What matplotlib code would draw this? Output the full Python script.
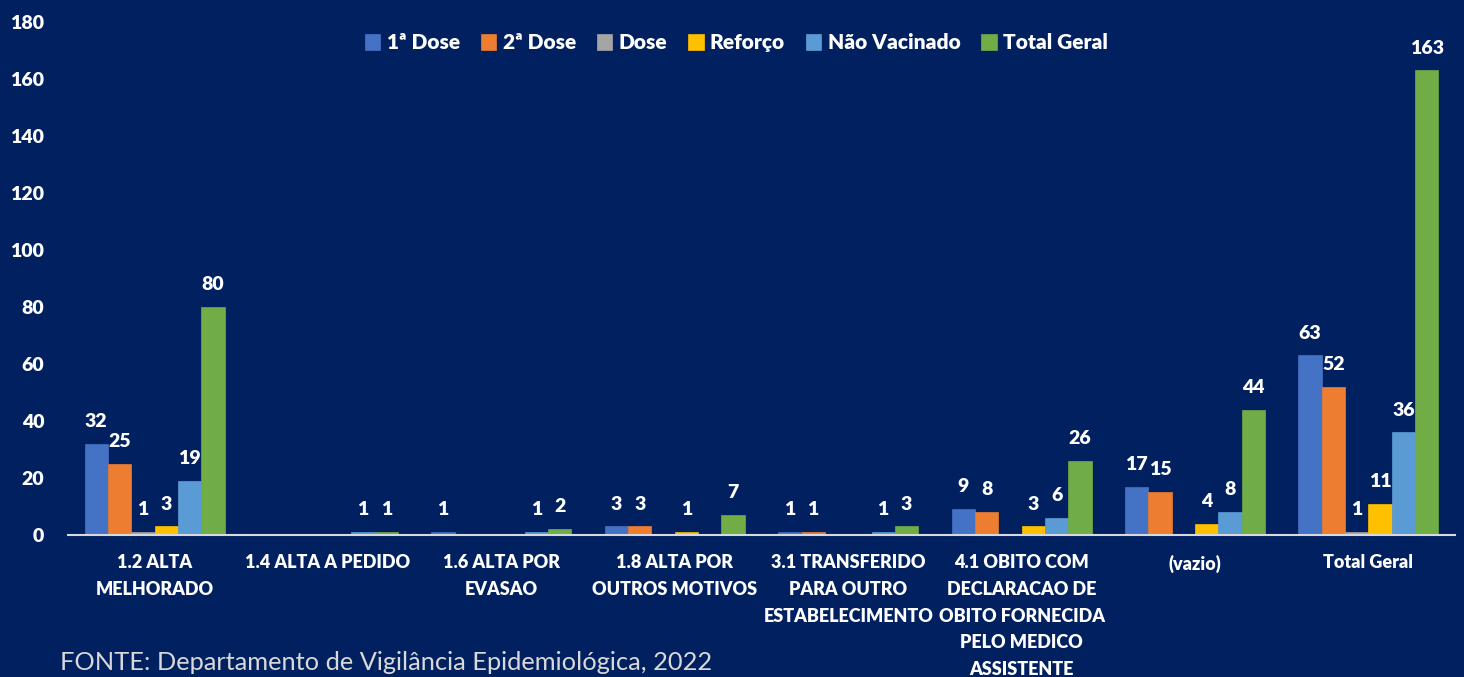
import numpy as np
import matplotlib
matplotlib.use("Agg")
import matplotlib.pyplot as plt

categories = ["1.2 ALTA\nMELHORADO", "1.4 ALTA A PEDIDO", "1.6 ALTA POR\nEVASAO",
              "1.8 ALTA POR\nOUTROS MOTIVOS", "3.1 TRANSFERIDO\nPARA OUTRO\nESTABELECIMENTO",
              "4.1 OBITO COM\nDECLARACAO DE\nOBITO FORNECIDA\nPELO MEDICO\nASSISTENTE",
              "(vazio)", "Total Geral"]
series_names = ["1ª Dose", "2ª Dose", "Dose", "Reforço", "Não Vacinado", "Total Geral"]
dose1 = [32, 0, 1, 3, 1, 9, 17, 63]
dose2 = [25, 0, 0, 3, 1, 8, 15, 52]
dose = [1, 0, 0, 0, 0, 0, 0, 1]
reforco = [3, 0, 0, 1, 0, 3, 4, 11]
nao_vacinado = [19, 1, 1, 0, 1, 6, 8, 36]
total_geral = [80, 1, 2, 7, 3, 26, 44, 163]
colors = ["#4472C4", "#ED7D31", "#A5A5A5", "#FFC000", "#5B9BD5", "#70AD47"]

bg = "#002060"
plt.rcParams['font.family'] = ['Lato', 'DejaVu Sans']
W = "heavy"

fig = plt.figure(figsize=(14.64, 6.77), dpi=100, facecolor=bg)
ax = fig.add_axes([0.0464, 0.2097, 0.9475, 0.7578], facecolor=bg)

x = np.arange(len(categories))
w = 0.1346
all_series = [dose1, dose2, dose, reforco, nao_vacinado, total_geral]
for i, (vals, name, c) in enumerate(zip(all_series, series_names, colors)):
    pos = x + (i - 2.5) * w
    bars = ax.bar(pos, vals, width=w, color=c, label=name, edgecolor=c, linewidth=0.5)
    for b, v in zip(bars, vals):
        if v > 0:
            ax.annotate(str(v), (b.get_x() + b.get_width() / 2, v), xytext=(0, 10),
                        textcoords="offset points", ha="center", va="bottom",
                        color="white", fontsize=14, fontweight=W)

ax.set_xlim(-0.5, len(categories) - 0.5)
ax.set_ylim(0, 180)
ax.set_yticks(range(0, 181, 20))
ax.set_xticks(x)
ax.set_xticklabels(categories, linespacing=1.68, fontsize=13)
ax.tick_params(axis="both", length=0, colors="white")
ax.tick_params(axis="y", labelsize=14, pad=17)
ax.tick_params(axis="x", pad=14)
for lbl in ax.get_xticklabels() + ax.get_yticklabels():
    lbl.set_fontweight(W)
for s in ["top", "right", "left"]:
    ax.spines[s].set_visible(False)
ax.spines["bottom"].set_color("#D9D9D9")
ax.spines["bottom"].set_linewidth(1.5)

leg = fig.legend(loc="center", bbox_to_anchor=(0.503, 0.937), ncol=6, frameon=False,
                 handlelength=0.75, handleheight=0.75, handletextpad=0.3, columnspacing=1.0,
                 prop={"weight": W, "size": 15})
for t in leg.get_texts():
    t.set_color("white")

fig.text(0.041, 0.010, "FONTE: Departamento de Vigilância Epidemiológica, 2022",
         color="#D9D9D9", fontsize=18.3, ha="left", va="baseline")

fig.savefig("out.png", dpi=100, facecolor=bg)
